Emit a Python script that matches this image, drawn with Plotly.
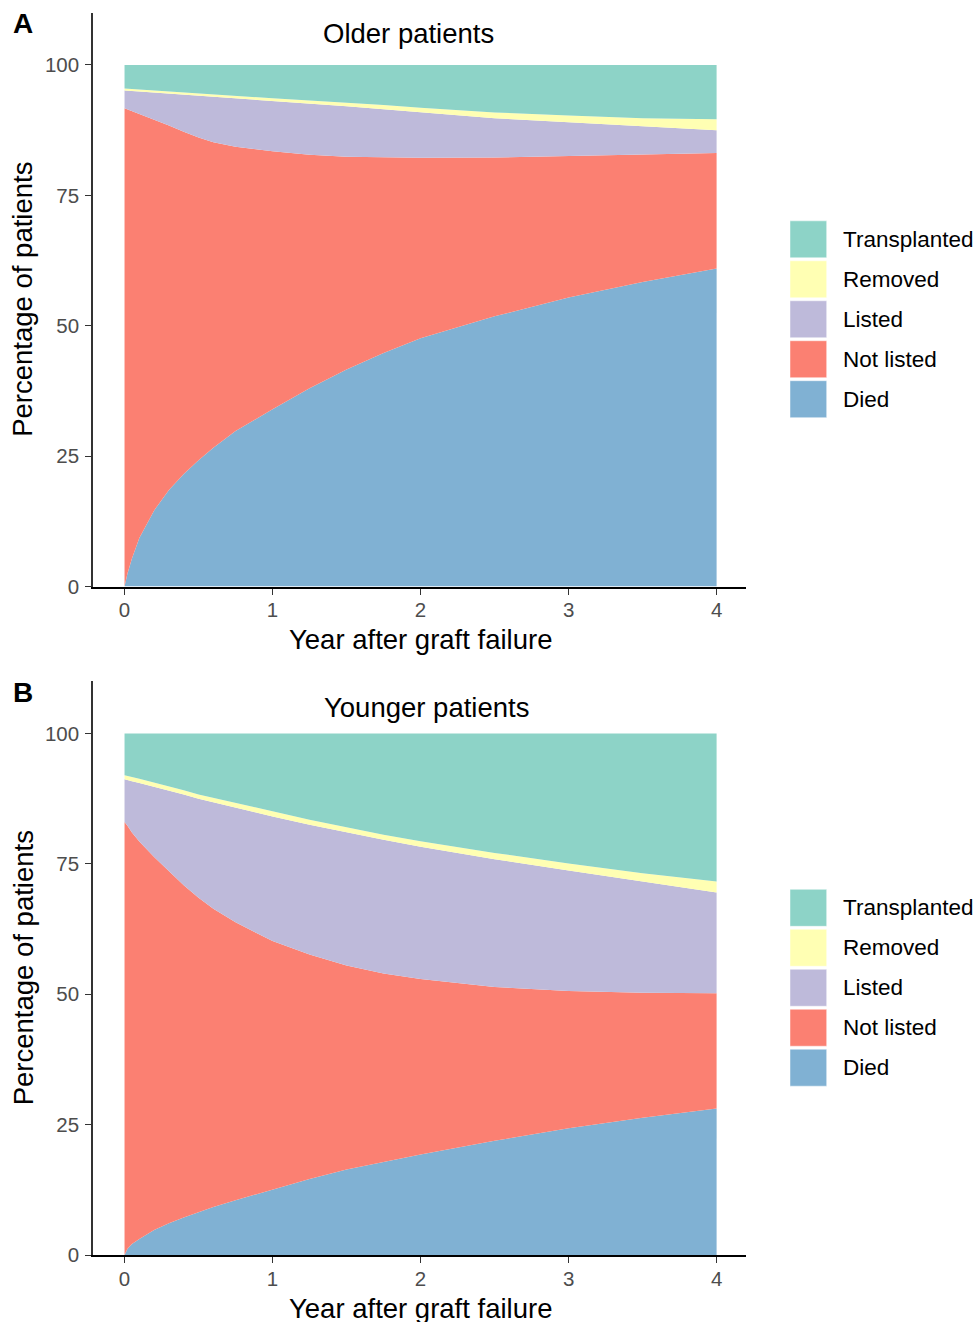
import plotly.graph_objects as go

# ---------------- data (percent of patients) ----------------
years = [0, 0.02, 0.05, 0.1, 0.2, 0.3, 0.4, 0.5, 0.6, 0.75, 1.0, 1.25, 1.5, 1.75, 2.0, 2.5, 3.0, 3.5, 4.0]

categories = ["Transplanted", "Removed", "Listed", "Not listed", "Died"]
colors = {"Transplanted": "#8DD3C7", "Removed": "#FFFFB3", "Listed": "#BEBADA",
          "Not listed": "#FB8072", "Died": "#80B1D3"}

# Panel A: older patients
died_A = [0, 2.5, 5.4, 9.3, 14.6, 18.5, 21.6, 24.2, 26.6, 29.8, 34.0, 38.0, 41.6, 44.8, 47.6, 51.8, 55.4, 58.4, 61.0]
notlisted_A = [91.7, 88.95, 85.7, 81.25, 74.9, 69.85, 65.6, 61.9, 58.6, 54.5, 49.45, 44.8, 40.8, 37.5, 34.6, 30.45, 27.1, 24.4, 22.1]
listed_A = [3.4, 3.61, 3.9, 4.35, 5.2, 6.2, 7.2, 8.05, 8.75, 9.3, 9.6, 9.8, 9.7, 9.2, 8.7, 7.55, 6.5, 5.4, 4.4]
removed_A = [0.4, 0.4, 0.4, 0.4, 0.4, 0.4, 0.4, 0.45, 0.45, 0.5, 0.55, 0.6, 0.7, 0.8, 0.9, 1.1, 1.3, 1.6, 2.1]
transplanted_A = [4.5, 4.5, 4.6, 4.7, 4.9, 5.0, 5.2, 5.4, 5.6, 5.9, 6.4, 6.8, 7.2, 7.7, 8.2, 9.1, 9.7, 10.2, 10.4]

# Panel B: younger patients
died_B = [0, 1.2, 2.1, 3.1, 4.8, 6.1, 7.2, 8.2, 9.2, 10.5, 12.6, 14.6, 16.4, 17.9, 19.3, 21.9, 24.3, 26.3, 28.1]
notlisted_B = [83.0, 81.1, 78.9, 76.2, 71.5, 67.5, 63.7, 60.3, 57.2, 53.3, 47.6, 43.0, 39.1, 36.1, 33.6, 29.5, 26.3, 24.0, 22.1]
listed_B = [8.2, 8.8, 9.85, 11.2, 13.5, 15.4, 17.4, 19.0, 20.4, 22.0, 23.9, 24.9, 25.5, 25.6, 25.4, 24.5, 23.1, 21.3, 19.3]
removed_B = [0.8, 0.8, 0.8, 0.8, 0.8, 0.8, 0.8, 0.8, 0.85, 0.85, 0.9, 0.95, 1.0, 1.0, 1.05, 1.2, 1.35, 1.6, 2.1]
transplanted_B = [8.0, 8.1, 8.35, 8.7, 9.4, 10.2, 10.9, 11.7, 12.35, 13.35, 15.0, 16.55, 18.0, 19.4, 20.65, 22.9, 24.95, 26.8, 28.4]

x_ticks = [0, 1, 2, 3, 4]
y_ticks = [0, 25, 50, 75, 100]
panel_titles = ["Older patients", "Younger patients"]
panel_letters = ["A", "B"]
x_title = "Year after graft failure"
y_title = "Percentage of patients"

# ---------------- layout helpers ----------------
REF_W, REF_H = 976, 1322        # reference picture size (positions below are in its pixels)
W, H = 976, 1332                # figure size
FONT = "Liberation Sans, Arial, Helvetica, sans-serif"


def fx(p):
    return p / REF_W


def fy(p):
    return 1 - p / REF_H


fig = go.Figure()

panels = [
    ("x", "y", "A", {"Died": died_A, "Not listed": notlisted_A, "Listed": listed_A,
                     "Removed": removed_A, "Transplanted": transplanted_A}),
    ("x2", "y2", "B", {"Died": died_B, "Not listed": notlisted_B, "Listed": listed_B,
                       "Removed": removed_B, "Transplanted": transplanted_B}),
]

for xa, ya, grp, series in panels:
    for cat in ["Died", "Not listed", "Listed", "Removed", "Transplanted"]:
        fig.add_trace(go.Scatter(
            x=years, y=series[cat], name=cat, xaxis=xa, yaxis=ya,
            stackgroup=grp, groupnorm="percent", mode="lines",
            line=dict(width=0, color=colors[cat]), fillcolor=colors[cat],
            hoverinfo="skip", showlegend=False))

offsets = [0, 669]
x_dom = [fx(93), fx(746.2)]
axis_common = dict(showgrid=False, zeroline=False, showline=True,
                   ticks="outside", ticklen=6, tickwidth=1.3, tickcolor="#333333",
                   tickfont=dict(family=FONT, size=20.5, color="#4D4D4D"))

layout_axes = {}
for i, off in enumerate(offsets):
    sfx = "" if i == 0 else str(i + 1)
    layout_axes["xaxis" + sfx] = dict(
        domain=x_dom, range=[-0.213, 4.2], anchor="y" + sfx,
        tickvals=x_ticks, ticktext=[str(v) for v in x_ticks],
        linecolor="#000000", linewidth=2, ticklabelstandoff=-2, **axis_common)
    layout_axes["yaxis" + sfx] = dict(
        domain=[fy(587 + off), fy(12.8 + off)], range=[0, 110], anchor="x" + sfx,
        tickvals=y_ticks, ticktext=[str(v) for v in y_ticks],
        linecolor="#333333", linewidth=1.5, ticklabelstandoff=2, **axis_common)

fig.update_layout(**layout_axes)

annotations = []
shapes = []
title_pos = [(321, 33.2), (322, 708.3)]
for i, off in enumerate(offsets):
    annotations.append(dict(text="<b>%s</b>" % panel_letters[i], x=fx(11), y=fy(24 + off),
                            xref="paper", yref="paper", xanchor="left", yanchor="middle",
                            showarrow=False, font=dict(family=FONT, size=28, color="black")))
    annotations.append(dict(text=panel_titles[i], x=fx(title_pos[i][0]), y=fy(title_pos[i][1]),
                            xref="paper", yref="paper", xanchor="left", yanchor="middle",
                            showarrow=False, font=dict(family=FONT, size=27.5, color="black")))
    annotations.append(dict(text=x_title, x=fx(420), y=fy(640 + off),
                            xref="paper", yref="paper", xanchor="center", yanchor="middle",
                            showarrow=False, font=dict(family=FONT, size=27.5, color="black")))
    annotations.append(dict(text=y_title, x=fx(23), y=fy(300 + off), textangle=-90,
                            xref="paper", yref="paper", xanchor="center", yanchor="middle",
                            showarrow=False, font=dict(family=FONT, size=27.5, color="black")))
    for j, cat in enumerate(categories):
        top = 221 + 40 * j + off
        shapes.append(dict(type="rect", xref="paper", yref="paper",
                           x0=fx(790), x1=fx(826.7), y0=fy(top + 37), y1=fy(top),
                           fillcolor=colors[cat], line=dict(width=0.8, color="rgba(255,255,255,0.6)"),
                           layer="above"))
        annotations.append(dict(text=cat, x=fx(841), y=fy(top + 18.5),
                                xref="paper", yref="paper", xanchor="left", yanchor="middle",
                                showarrow=False, font=dict(family=FONT, size=22.5, color="black")))

fig.update_layout(
    width=W, height=H, margin=dict(l=0, r=0, t=0, b=0),
    paper_bgcolor="white", plot_bgcolor="white",
    annotations=annotations, shapes=shapes, showlegend=False,
    font=dict(family=FONT),
)

# remove the default page margin so the figure starts at the window's corner
fig.write_html("out.html", config={"displayModeBar": False},
               post_script="document.body.style.margin='0';document.body.style.overflow='hidden';")
